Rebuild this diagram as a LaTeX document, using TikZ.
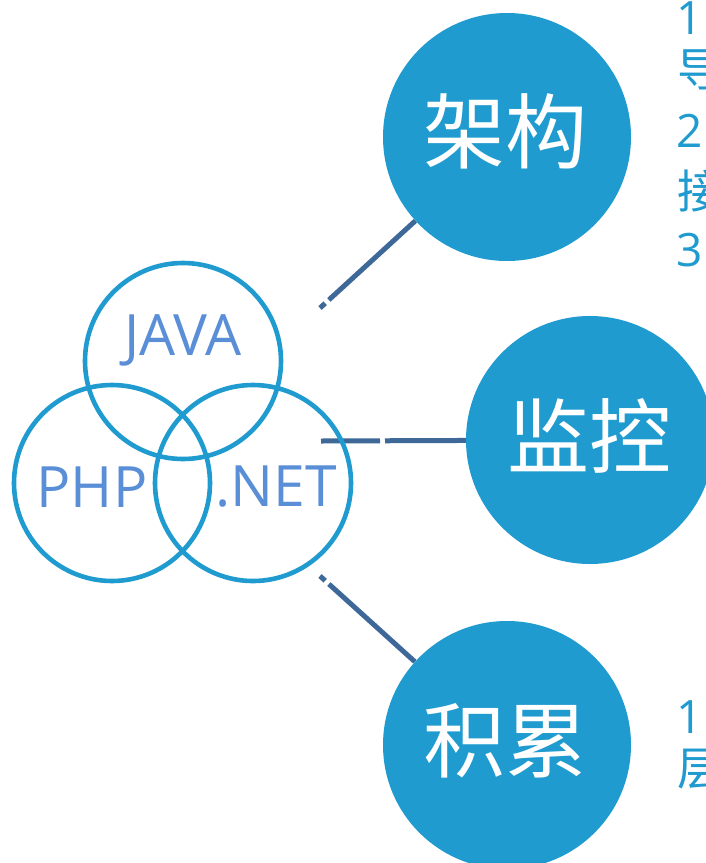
\documentclass[tikz,border=0pt]{standalone}
\usepackage{fontspec}
\setmainfont{Open Sans}
\newfontfamily\cjk{Noto Sans CJK SC}
\usetikzlibrary{backgrounds}
\definecolor{cblue}{RGB}{31,155,208}
\definecolor{tblue}{RGB}{90,143,216}
\definecolor{lblue}{RGB}{62,104,152}
\begin{document}
\begin{tikzpicture}[x=1pt,y=-1pt,
  smallc/.style={circle,draw=cblue,line width=4.6pt,minimum size=196pt,inner sep=0pt},
  bigc/.style={circle,fill=cblue,minimum size=248pt,inner sep=0pt},
  lbl/.style={text=tblue,font=\fontsize{57}{60}\selectfont,inner sep=0pt},
  bigtxt/.style={text=white,font=\cjk\fontsize{82}{90}\selectfont,inner sep=0pt},
  rnum/.style={text=cblue,font=\fontsize{46}{50}\selectfont,inner sep=0pt,anchor=west},
  rcjk/.style={text=cblue,font=\cjk\fontsize{46}{50}\selectfont,inner sep=0pt,anchor=west},
  conn/.style={draw=lblue,line width=5pt}]
\useasboundingbox (0,0) rectangle (705,863);
% small circles
\node[smallc] (java) at (183,361) {};
\node[smallc] (php) at (112,483) {};
\node[smallc] (net) at (253,483) {};
\node[lbl] (javat) at (183,340) {JAVA};
\node[lbl] (phpt) at (92,487) {PHP};
\node[lbl] (nett) at (276,487) {.NET};
% big circles
\node[bigc] (c1) at (507,137) {};
\node[bigc] (c2) at (590,440) {};
\node[bigc] (c3) at (507,745) {};
\node[bigtxt] (t1) at (505,131) {架构};
\node[bigtxt] (t2) at (589,436) {监控};
\node[bigtxt] (t3) at (505,741) {积累};
% connector ends
\coordinate (e1) at (320,308);
\coordinate (e2) at (321,441);
\coordinate (e3) at (320,576);
\begin{scope}[on background layer]
\fill[white] (0,0) rectangle (705,863);
\draw[conn,dash pattern=on 7pt off 5pt on 400pt] (e1) -- (c1);
\draw[conn,dash pattern=on 59pt off 5pt on 400pt] (e2) -- (c2);
\draw[conn,dash pattern=on 7pt off 5pt on 400pt] (e3) -- (c3);
\end{scope}
% right-side texts
\node[rnum] (r1) at (676,18) {1};
\node[rcjk] (r2) at (677,70) {导};
\node[rnum] (r3) at (676,131) {2};
\node[rcjk] (r4) at (677,191) {接};
\node[rnum] (r5) at (676,250) {3};
\node[rnum] (r6) at (676,717) {1};
\node[rcjk] (r7) at (677,769) {层};
\end{tikzpicture}
\end{document}
